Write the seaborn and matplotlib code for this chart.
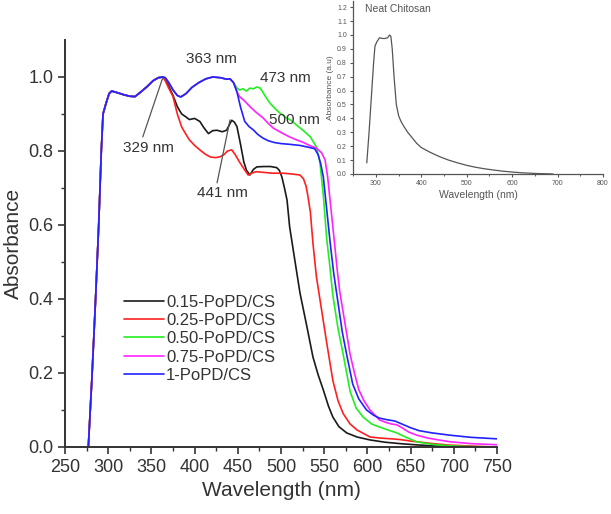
import seaborn as sns
import matplotlib.pyplot as plt
import numpy as np
import pandas as pd

# shared part of all five spectra (rise + first peak)
wl_common = [277, 281, 285, 289, 292, 294, 297, 301, 304, 310, 318, 325, 331, 338, 345, 352, 358, 363]
abs_common = [0.0, 0.18, 0.38, 0.6, 0.8, 0.9, 0.925, 0.955, 0.962, 0.958, 0.952, 0.948, 0.947, 0.96, 0.974, 0.99, 0.998, 1.0]

# part shared by 0.50 / 0.75 / 1 (broad band up to ~441)
wl_band = [366, 370, 375, 380, 384, 390, 397, 405, 413, 421, 430, 437, 441, 445]
abs_band = [0.998, 0.985, 0.965, 0.95, 0.946, 0.955, 0.972, 0.985, 0.995, 1.0, 0.998, 0.994, 0.995, 0.985]

wl_015 = [366, 370, 375, 380, 385, 390, 394, 400, 406, 411, 416, 421, 426, 432, 437, 440, 443, 446, 449, 453,
          457, 460, 464, 468, 472, 480, 488, 495, 498, 501, 504, 507, 510, 516, 522, 530, 537, 543, 549, 555,
          560, 567, 576, 588, 603, 620, 638, 655, 676, 700, 750]
abs_015 = [0.995, 0.975, 0.95, 0.92, 0.9, 0.892, 0.885, 0.888, 0.88, 0.862, 0.847, 0.855, 0.856, 0.852, 0.856,
           0.87, 0.883, 0.878, 0.866, 0.82, 0.77, 0.748, 0.735, 0.75, 0.757, 0.758, 0.758, 0.755, 0.748, 0.73,
           0.7, 0.667, 0.595, 0.505, 0.416, 0.325, 0.243, 0.195, 0.154, 0.11, 0.081, 0.055, 0.038, 0.027,
           0.019, 0.013, 0.009, 0.006, 0.003, 0.001, 0.0]

wl_025 = [366, 370, 375, 380, 385, 390, 394, 400, 406, 412, 418, 424, 429, 434, 438, 443, 447, 452, 457, 462,
          466, 471, 476, 490, 502, 512, 522, 526, 529, 531, 534, 537, 541, 547, 553, 560, 566, 572, 580, 588,
          603, 615, 628, 638, 650, 665, 676, 695, 715, 735, 750]
abs_025 = [0.99, 0.97, 0.947, 0.9, 0.865, 0.845, 0.83, 0.815, 0.803, 0.792, 0.784, 0.782, 0.784, 0.79, 0.8,
           0.803, 0.79, 0.77, 0.752, 0.735, 0.74, 0.744, 0.743, 0.74, 0.74, 0.738, 0.735, 0.725, 0.705, 0.68,
           0.635, 0.55, 0.46, 0.37, 0.28, 0.18, 0.125, 0.09, 0.062, 0.046, 0.027, 0.024, 0.022, 0.02, 0.016,
           0.012, 0.009, 0.005, 0.003, 0.001, 0.0]

wl_050 = [449, 452, 456, 460, 464, 468, 472, 476, 480, 484, 487, 493, 499, 505, 512, 518, 526, 534, 541, 545,
          549, 553, 556, 560, 566, 572, 580, 587, 595, 605, 614, 625, 634, 645, 657, 675, 696, 720, 750]
abs_050 = [0.97, 0.965, 0.968, 0.962, 0.97, 0.968, 0.973, 0.97, 0.955, 0.94, 0.93, 0.915, 0.902, 0.892, 0.882,
           0.87, 0.855, 0.838, 0.811, 0.77, 0.68, 0.56, 0.5, 0.41, 0.32, 0.25, 0.15, 0.105, 0.081, 0.062,
           0.054, 0.045, 0.038, 0.026, 0.014, 0.007, 0.003, 0.001, 0.0]

wl_075 = [449, 452, 458, 464, 471, 479, 485, 491, 500, 510, 518, 525, 533, 541, 547, 551, 554, 558, 562, 565,
          568, 574, 580, 585, 590, 596, 603, 614, 622, 628, 634, 640, 648, 657, 670, 685, 696, 720, 750]
abs_075 = [0.96, 0.947, 0.935, 0.92, 0.905, 0.89, 0.875, 0.862, 0.85, 0.838, 0.83, 0.824, 0.815, 0.808, 0.795,
           0.776, 0.73, 0.64, 0.55, 0.48, 0.42, 0.335, 0.25, 0.2, 0.155, 0.125, 0.1, 0.073, 0.066, 0.062, 0.06,
           0.052, 0.04, 0.032, 0.024, 0.018, 0.014, 0.009, 0.006]

wl_100 = [449, 453, 458, 463, 468, 473, 479, 485, 492, 500, 510, 522, 532, 539, 543, 546, 549, 553, 557, 561,
          566, 571, 576, 583, 590, 599, 607, 614, 622, 632, 640, 650, 660, 675, 695, 720, 750]
abs_100 = [0.96, 0.92, 0.88, 0.866, 0.857, 0.845, 0.835, 0.828, 0.823, 0.82, 0.818, 0.815, 0.81, 0.806, 0.79,
           0.765, 0.73, 0.64, 0.55, 0.47, 0.39, 0.31, 0.25, 0.17, 0.13, 0.1, 0.086, 0.078, 0.074, 0.07, 0.062,
           0.052, 0.044, 0.038, 0.032, 0.026, 0.022]

samples = ["0.15-PoPD/CS", "0.25-PoPD/CS", "0.50-PoPD/CS", "0.75-PoPD/CS", "1-PoPD/CS"]
colors = ["#1a1a1a", "#ff2020", "#22ee22", "#ff22ff", "#2222ff"]

# inset: neat chitosan
wl_cs = [280, 285, 290, 295, 298, 302, 308, 314, 320, 326, 330, 333, 336, 340, 345, 350, 355, 362, 370, 380,
         390, 400, 420, 440, 460, 480, 500, 520, 540, 560, 580, 600, 620, 650, 690]
abs_cs = [0.08, 0.3, 0.55, 0.8, 0.92, 0.95, 0.98, 0.975, 0.975, 0.98, 1.0, 0.99, 0.9, 0.7, 0.5, 0.42, 0.38,
          0.34, 0.3, 0.26, 0.22, 0.19, 0.155, 0.125, 0.1, 0.08, 0.062, 0.048, 0.037, 0.028, 0.02, 0.014,
          0.009, 0.004, 0.0]

tails = [(wl_015, abs_015), (wl_025, abs_025),
         (wl_band + wl_050, abs_band + abs_050),
         (wl_band + wl_075, abs_band + abs_075),
         (wl_band + wl_100, abs_band + abs_100)]
rows = []
for name, (w, a) in zip(samples, tails):
    for x, y in zip(wl_common + w, abs_common + a):
        rows.append((name, x, y))
df = pd.DataFrame(rows, columns=["sample", "wavelength", "absorbance"])
df_cs = pd.DataFrame({"wavelength": wl_cs, "absorbance": abs_cs})

sns.set_style("ticks")
plt.rcParams['font.family'] = ['Liberation Sans', 'DejaVu Sans']
dark = "#333333"

fig = plt.figure(figsize=(6.11, 5.14), dpi=100)
ax = fig.add_axes([0.1064, 0.1304, 0.7070, 0.7918])
sns.lineplot(data=df, x="wavelength", y="absorbance", hue="sample", hue_order=samples,
             palette=dict(zip(samples, colors)), estimator=None, sort=True, linewidth=1.2, ax=ax)

ax.set_xlim(250, 750)
ax.set_ylim(0, 1.1)
ax.set_xticks(np.arange(250, 751, 50))
ax.set_xticks(np.arange(275, 750, 50), minor=True)
ax.set_yticks(np.arange(0, 1.01, 0.2))
ax.set_yticks(np.arange(0.1, 1.1, 0.2), minor=True)
ax.yaxis.set_major_formatter(plt.FormatStrFormatter('%.1f'))
sns.despine(ax=ax)
for s in ["left", "bottom"]:
    ax.spines[s].set_color(dark)
    ax.spines[s].set_linewidth(1.4)
ax.tick_params(which="major", length=5, width=1.2, color=dark, labelsize=13, labelcolor=dark)
ax.tick_params(which="minor", length=3, width=1.0, color=dark)
ax.set_xlabel("Wavelength (nm)", fontsize=15, color=dark)
ax.set_ylabel("Absorbance", fontsize=15, color=dark)

leg = ax.legend(loc="upper left", bbox_to_anchor=(0.118, 0.395), frameon=False, fontsize=12,
                handlelength=2.4, handletextpad=0.1, labelspacing=0.2, borderpad=0)
for t in leg.get_texts():
    t.set_color(dark)

# peak annotations
akw = dict(fontsize=11, color=dark, ha="center", va="center")
lkw = dict(arrowprops=dict(arrowstyle="-", color="#555555", lw=0.9, shrinkA=0, shrinkB=0))
ax.annotate("", xy=(363, 0.997), xytext=(340, 0.838), **lkw)
ax.text(346, 0.808, "329 nm", **akw)
ax.annotate("", xy=(441, 0.884), xytext=(426, 0.714), **lkw)
ax.text(432, 0.686, "441 nm", **akw)
ax.text(420, 1.049, "363 nm", **akw)
ax.text(505, 0.997, "473 nm", **akw)
ax.text(516, 0.884, "500 nm", **akw)

# inset
gray = "#555555"
ins = fig.add_axes([0.578, 0.6615, 0.409, 0.3375])
sns.lineplot(data=df_cs, x="wavelength", y="absorbance", color=gray, linewidth=0.9, ax=ins)
ins.set_xlim(250, 800)
ins.set_ylim(0, 1.248)
ins.set_xticks(np.arange(300, 801, 100))
ins.set_xticks(np.arange(250, 800, 100), minor=True)
ins.set_yticks(np.arange(0, 1.21, 0.1))
ins.yaxis.set_major_formatter(plt.FormatStrFormatter('%.1f'))
sns.despine(ax=ins)
for s in ["left", "bottom"]:
    ins.spines[s].set_color(gray)
    ins.spines[s].set_linewidth(0.9)
ins.tick_params(which="major", length=2.5, width=0.8, color=gray, labelsize=5, labelcolor=gray, pad=2)
ins.tick_params(which="minor", length=1.5, width=0.7, color=gray)
ins.set_xlabel("Wavelength (nm)", fontsize=7.5, color=gray, labelpad=2)
ins.set_ylabel("Absorbance (a.u)", fontsize=6, color=gray, labelpad=2)
ins.text(275, 1.19, "Neat Chitosan", fontsize=7.5, color=gray, ha="left", va="center")
ins.patch.set_alpha(0)

fig.savefig("out.png", dpi=100)
